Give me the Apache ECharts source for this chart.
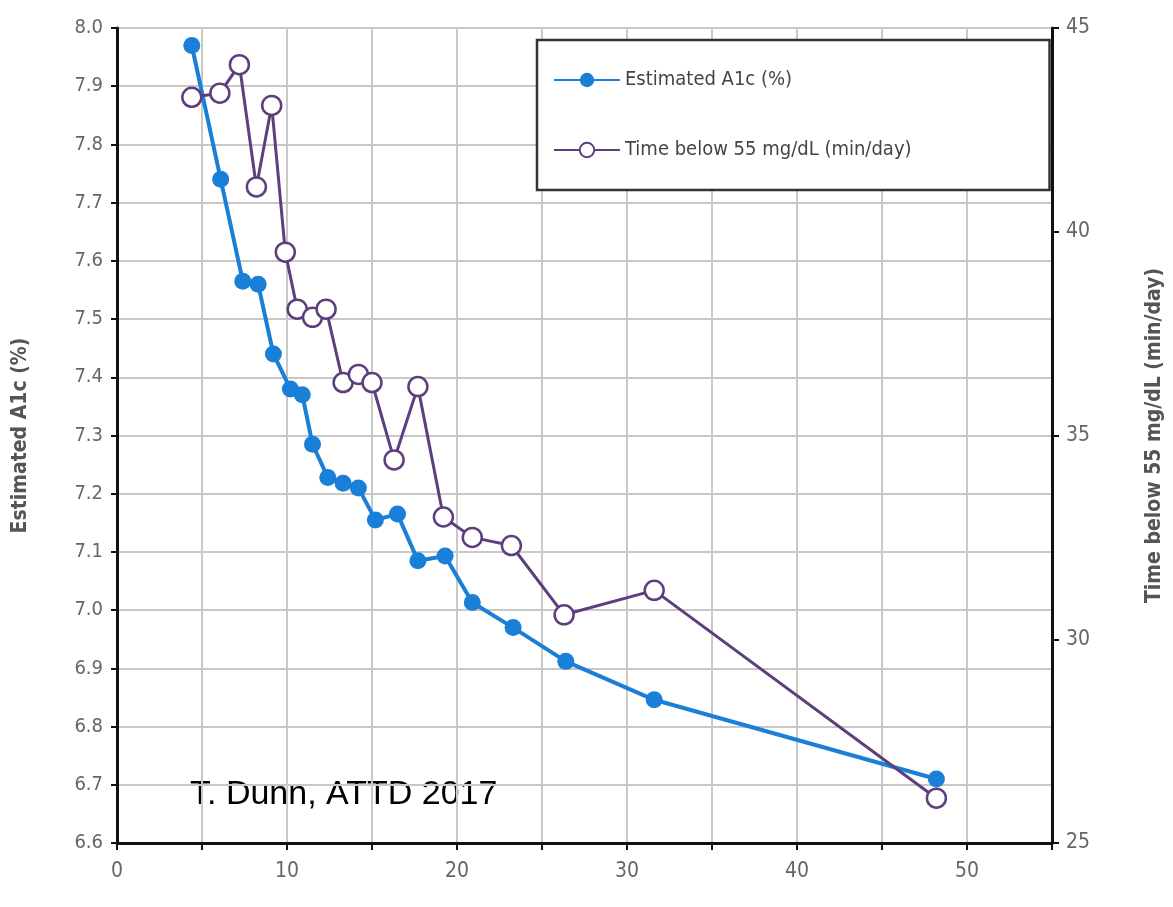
<!DOCTYPE html>
<html>
<head>
<meta charset="utf-8">
<script src="https://cdn.jsdelivr.net/npm/echarts@6/dist/echarts.min.js"></script>
<style>
  html, body { margin: 0; padding: 0; background: #fff; }
  #chart { width: 1173px; height: 907px; }
</style>
</head>
<body>
<div id="chart"></div>
<script>
// estimated A1c vs scans/day
var a1cX = [4.4, 6.1, 7.4, 8.3, 9.2, 10.2, 10.9, 11.5, 12.4, 13.3, 14.2, 15.2, 16.5, 17.7, 19.3, 20.9, 23.3, 26.4, 31.6, 48.2];
var a1cY = [7.97, 7.74, 7.565, 7.56, 7.44, 7.38, 7.37, 7.285, 7.228, 7.218, 7.21, 7.155, 7.165, 7.085, 7.093, 7.013, 6.97, 6.912, 6.846, 6.71];

// time below 55 mg/dL (min/day)
var hypoX = [4.4, 6.05, 7.2, 8.2, 9.1, 9.9, 10.6, 11.5, 12.3, 13.3, 14.2, 15.0, 16.3, 17.7, 19.2, 20.9, 23.2, 26.3, 31.6, 48.2];
var hypoY = [43.3, 43.4, 44.1, 41.1, 43.1, 39.5, 38.1, 37.9, 38.1, 36.3, 36.5, 36.3, 34.4, 36.2, 33.0, 32.5, 32.3, 30.6, 31.2, 26.1];

function pairs(xs, ys) {
  return xs.map(function (x, i) { return [x, ys[i]]; });
}

var chart = echarts.init(document.getElementById('chart'));
var option;

option = {
  animation: false,
  backgroundColor: '#fff',
  grid: { left: 117, right: 120, top: 28, bottom: 64 },
  legend: {
    orient: 'vertical',
    left: 537,
    top: 40,
    padding: [30, 138, 30, 16],
    itemGap: 50,
    itemWidth: 66,
    itemHeight: 18,
    borderColor: '#333',
    borderWidth: 2.5,
    backgroundColor: '#fff',
    textStyle: { fontFamily: 'DejaVu Sans Condensed', fontSize: 20, color: '#444' },
    data: ['Estimated A1c (%)', 'Time below 55 mg/dL (min/day)']
  },
  xAxis: {
    type: 'value', min: 0, max: 55, interval: 10,
    axisLine: { lineStyle: { color: '#111', width: 3 } },
    axisTick: { length: 7, lineStyle: { color: '#111', width: 2 } },
    minorTick: { show: true, splitNumber: 2, length: 7, lineStyle: { color: '#111', width: 2 } },
    axisLabel: { color: '#666', fontSize: 21, fontFamily: 'DejaVu Sans Condensed', margin: 18,
      formatter: function (v) { return v > 50 ? '' : v; } },
    splitLine: { show: true, lineStyle: { color: '#c8c8c8', width: 2 } },
    minorSplitLine: { show: true, lineStyle: { color: '#c8c8c8', width: 2 } }
  },
  yAxis: [
    {
      type: 'value', min: 6.6, max: 8.0, interval: 0.1,
      name: 'Estimated A1c (%)', nameLocation: 'middle', nameGap: 86,
      nameTextStyle: { fontSize: 21, fontWeight: 'bold', color: '#555', fontFamily: 'DejaVu Sans Condensed' },
      axisLine: { show: true, lineStyle: { color: '#111', width: 3 } },
      axisTick: { show: true, length: 6, lineStyle: { color: '#111', width: 2 } },
      axisLabel: { color: '#666', fontSize: 20, fontFamily: 'DejaVu Sans Condensed', margin: 14,
        formatter: function (v) { return v.toFixed(1); } },
      splitLine: { show: true, lineStyle: { color: '#c8c8c8', width: 2 } }
    },
    {
      type: 'value', min: 25, max: 45, interval: 5,
      name: 'Time below 55 mg/dL (min/day)', nameLocation: 'middle', nameGap: 92, nameRotate: 90,
      nameTextStyle: { fontSize: 21, fontWeight: 'bold', color: '#555', fontFamily: 'DejaVu Sans Condensed' },
      axisLine: { show: true, lineStyle: { color: '#111', width: 3 } },
      axisTick: { show: true, length: 7, lineStyle: { color: '#111', width: 2 } },
      axisLabel: { color: '#666', fontSize: 21, fontFamily: 'DejaVu Sans Condensed', margin: 14 },
      splitLine: { show: false }
    }
  ],
  graphic: [
    { type: 'text', left: 190, top: 778,
      style: { text: 'T. Dunn, ATTD 2017', fill: '#000', fontSize: 34, fontFamily: 'Liberation Sans' } }
  ],
  series: [
    {
      name: 'Estimated A1c (%)', type: 'line', yAxisIndex: 0,
      data: pairs(a1cX, a1cY),
      symbol: 'circle', symbolSize: 17,
      lineStyle: { color: '#1a7fd6', width: 4 },
      itemStyle: { color: '#1a7fd6' },
      z: 3
    },
    {
      name: 'Time below 55 mg/dL (min/day)', type: 'line', yAxisIndex: 1,
      data: pairs(hypoX, hypoY),
      symbol: 'circle', symbolSize: 19,
      lineStyle: { color: '#5c3f7c', width: 3 },
      itemStyle: { color: '#fff', borderColor: '#5c3f7c', borderWidth: 2.5 },
      z: 4
    }
  ]
};

option && chart.setOption(option);
</script>
</body>
</html>
